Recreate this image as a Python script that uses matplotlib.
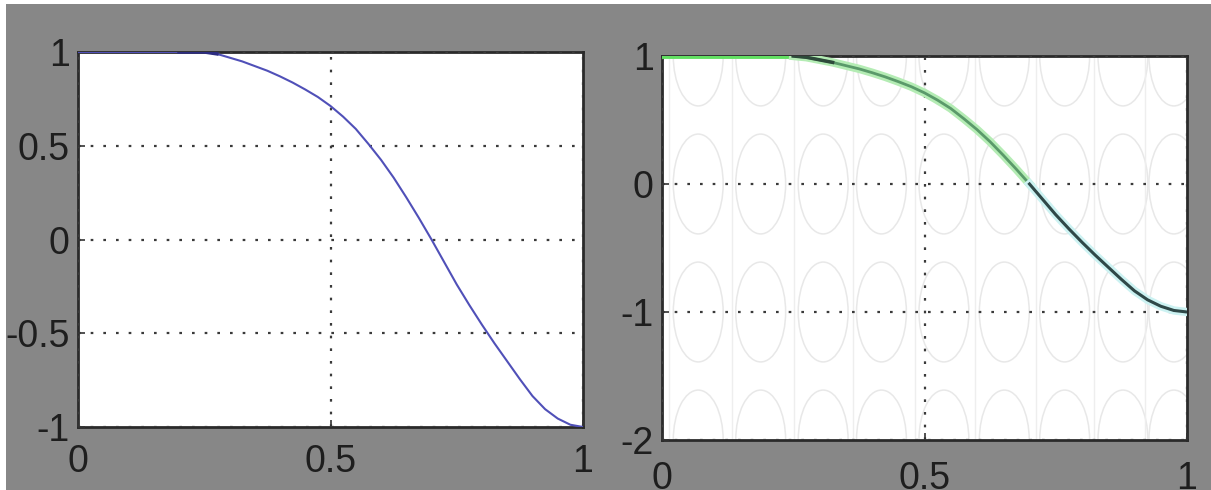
import matplotlib
matplotlib.use("Agg")
import matplotlib.pyplot as plt
from matplotlib.patches import Ellipse, Rectangle

# curve (same shape in both panels)
xs = [0, 0.05, 0.1, 0.15, 0.2, 0.25, 0.275, 0.3, 0.325, 0.35, 0.375, 0.4,
      0.425, 0.45, 0.475, 0.5, 0.525, 0.55, 0.575, 0.6, 0.625, 0.65, 0.675,
      0.7, 0.725, 0.75, 0.775, 0.8, 0.825, 0.85, 0.875, 0.9, 0.925, 0.95,
      0.975, 1.0]
ys = [1, 1, 1, 1, 1, 1, 0.99, 0.97, 0.95, 0.925, 0.9, 0.87,
      0.837, 0.8, 0.76, 0.712, 0.655, 0.59, 0.51, 0.425, 0.33, 0.225, 0.115,
      0.0, -0.12, -0.24, -0.35, -0.455, -0.555, -0.65, -0.745, -0.835, -0.905,
      -0.955, -0.988, -1.0]

left_yticks = [-1, -0.5, 0, 0.5, 1]
left_ylabels = ["-1", "-0.5", "0", "0.5", "1"]
right_yticks = [-2, -1, 0, 1]
right_ylabels = ["-2", "-1", "0", "1"]
xticks = [0, 0.5, 1]
xlabels = ["0", "0.5", "1"]

# background texture of the right panel
ell_x = [0.069, 0.188, 0.307, 0.418, 0.537, 0.652, 0.767, 0.878, 0.975]
ell_y = [1, 0, -1, -2]

bg = "#878787"
txt = "#1e1e1e"
font = ["Liberation Sans", "DejaVu Sans"]

fig = plt.figure(figsize=(12.11, 4.90), dpi=100, facecolor="white")
fig.patches.append(Rectangle((6 / 1211, 0), 1, 1 - 4 / 490, transform=fig.transFigure,
                             facecolor=bg, edgecolor="none", zorder=-10))

ax1 = fig.add_axes([78 / 1211, 1 - 427 / 490, 505 / 1211, 375 / 490])
ax2 = fig.add_axes([662 / 1211, 1 - 440 / 490, 525 / 1211, 384 / 490])


def style(ax, yt, yl, xpad):
    ax.set_xlim(0, 1)
    ax.set_xticks(xticks)
    ax.set_xticklabels(xlabels)
    ax.set_yticks(yt)
    ax.set_yticklabels(yl)
    ax.tick_params(direction="in", length=5, width=1.2, colors="#333333",
                   labelcolor=txt, labelsize=27)
    ax.tick_params(axis="x", pad=xpad)
    ax.tick_params(axis="y", pad=6)
    for lab in ax.get_xticklabels() + ax.get_yticklabels():
        lab.set_family(font)
    for s in ax.spines.values():
        s.set_color("#2a2a2a")
        s.set_linewidth(2)
    ax.grid(True, color="#3a3a3a", linestyle=(0, (1.2, 4.5)), linewidth=1.6)
    ax.set_axisbelow(False)


# left panel
ax1.set_ylim(-1, 1)
ax1.plot(xs, ys, color="#5050b8", linewidth=1.5, zorder=3)
ax1.plot(xs[4:7], ys[4:7], color="#2c2c80", linewidth=2.5, zorder=3)
style(ax1, left_yticks, left_ylabels, 12)

# right panel
ax2.set_ylim(-2, 1)
for cx in ell_x:
    ax2.axvline(cx - 0.055, color="#eeeeee", linewidth=1.0, zorder=0)
    for cy in ell_y:
        ax2.add_patch(Ellipse((cx, cy), 0.095, 0.78, facecolor="none",
                              edgecolor="#e8e8e8", linewidth=1.1, zorder=0))
i_mid = xs.index(0.25)
i_low = xs.index(0.7)
ax2.plot(xs[:i_mid + 1], ys[:i_mid + 1], color="#62e062", linewidth=3.5, zorder=3)
ax2.plot(xs[i_mid:i_low + 1], ys[i_mid:i_low + 1], color="#b4ecb4", linewidth=6, zorder=3)
ax2.plot(xs[i_mid:i_low + 1], ys[i_mid:i_low + 1], color="#5a9a6a", linewidth=2, zorder=3)
ax2.plot(xs[i_mid:i_mid + 4], ys[i_mid:i_mid + 4], color="#2d4a3a", linewidth=2.5, zorder=3)
ax2.plot(xs[i_low:], ys[i_low:], color="#ccf2f2", linewidth=6, zorder=3)
ax2.plot(xs[i_low:], ys[i_low:], color="#2f4848", linewidth=2.2, zorder=3)
style(ax2, right_yticks, right_ylabels, 15)

fig.savefig("out.png", dpi=100, facecolor=fig.get_facecolor())
